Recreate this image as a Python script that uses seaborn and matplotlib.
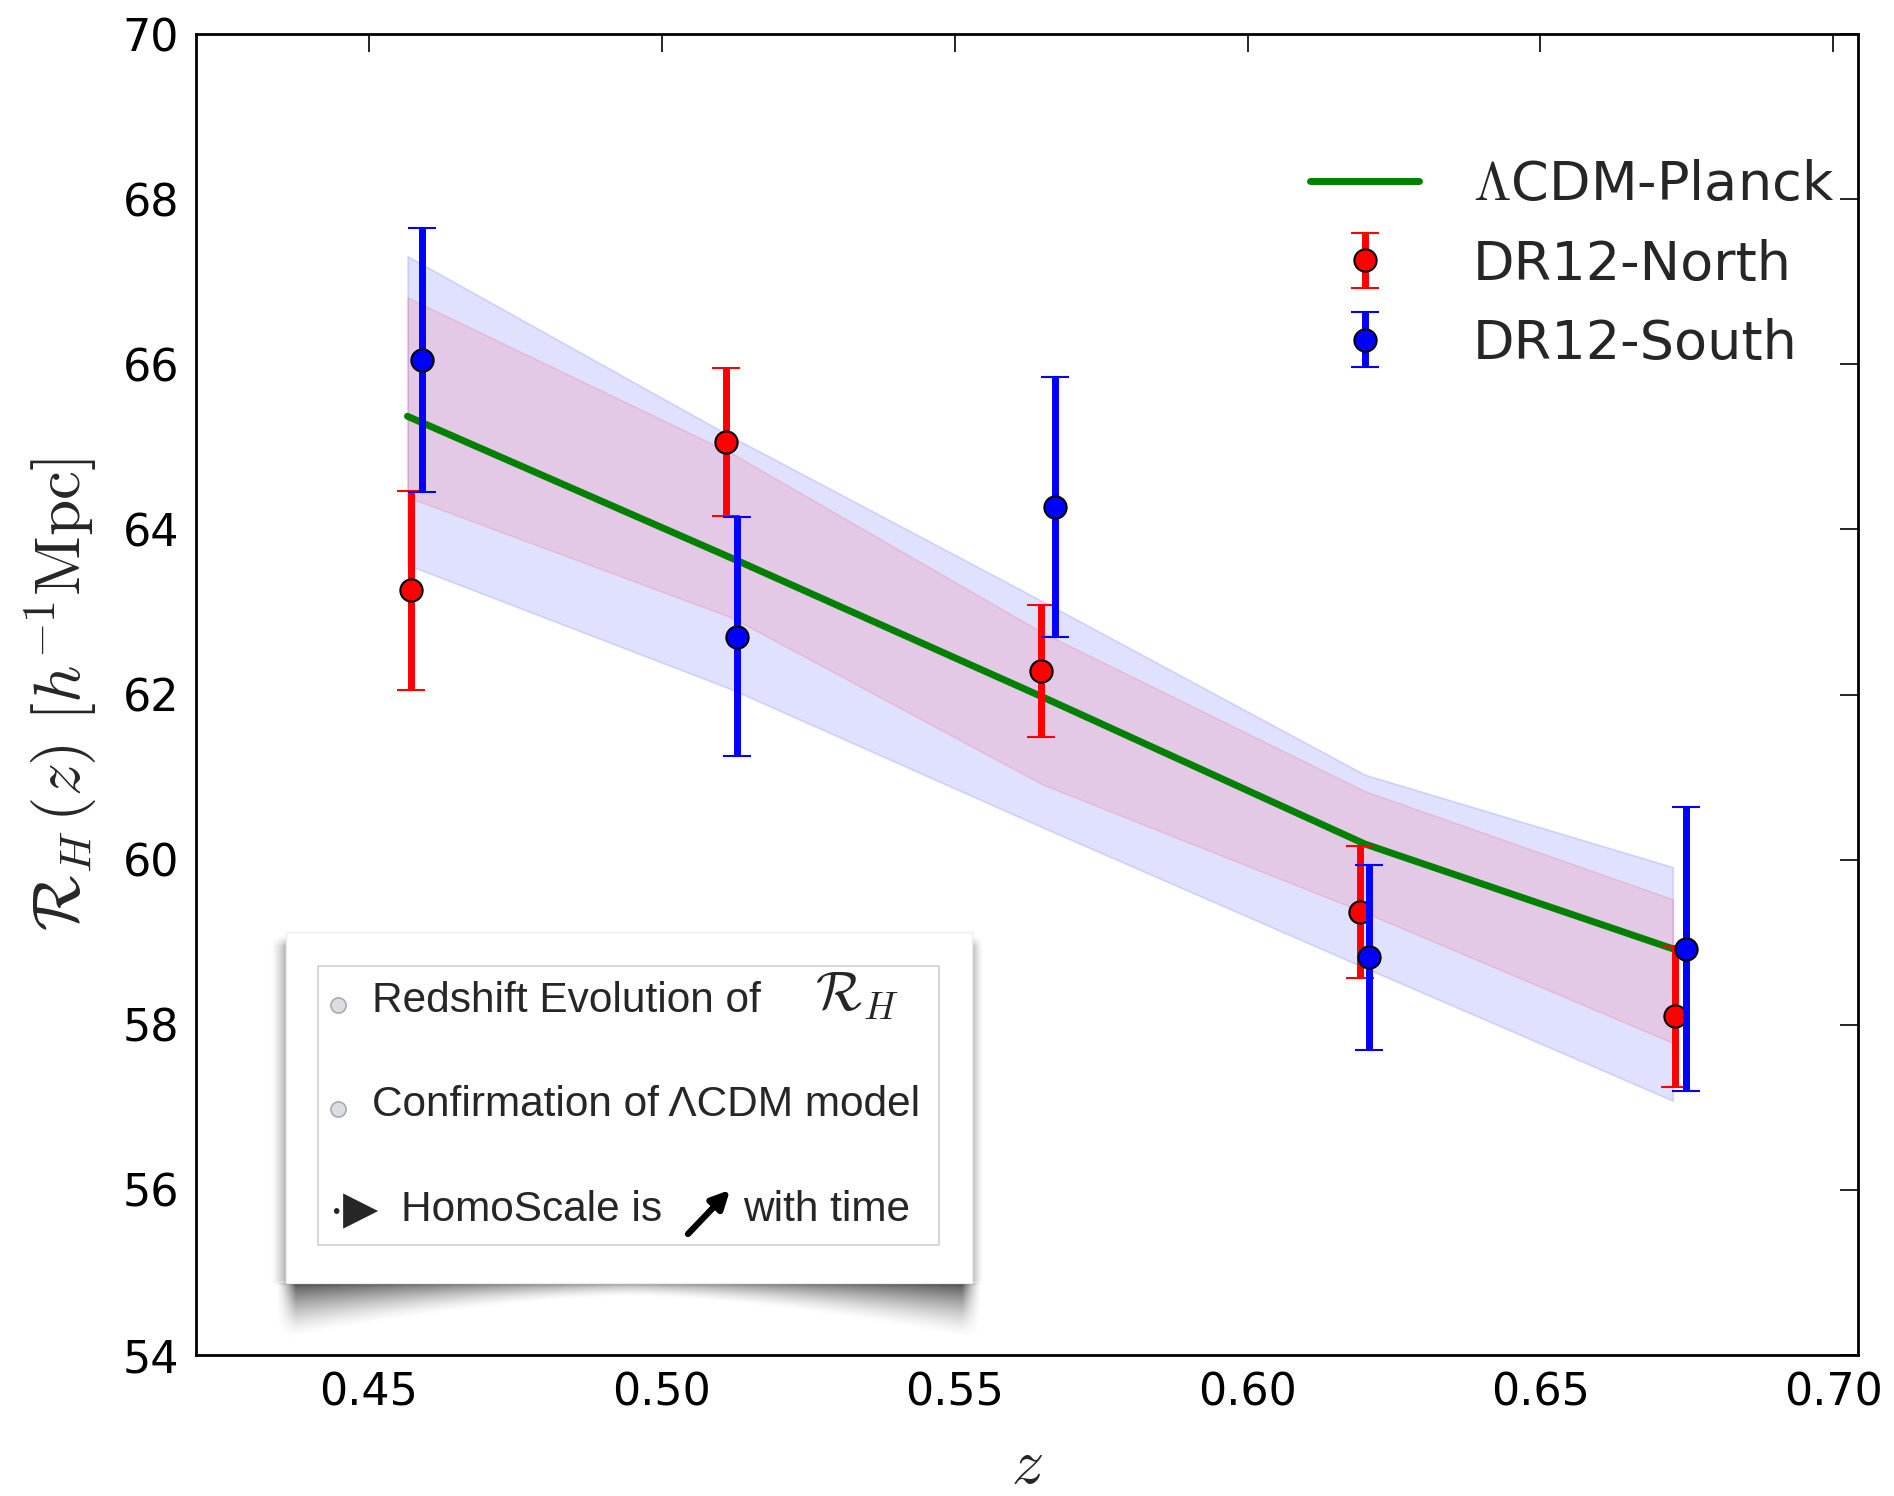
import numpy as np
import pandas as pd
import matplotlib
matplotlib.use("Agg")
import matplotlib.pyplot as plt
import seaborn as sns
from matplotlib.patches import Rectangle

# ---------------- data ----------------
z_north = [0.4572, 0.5109, 0.5648, 0.6192, 0.6730]
rh_north = [63.26, 65.06, 62.28, 59.37, 58.10]
err_north = [1.20, 0.90, 0.80, 0.80, 0.85]

z_south = [0.4591, 0.5128, 0.5671, 0.6208, 0.6749]
rh_south = [66.05, 62.70, 64.27, 58.82, 58.92]
err_south = [1.60, 1.45, 1.57, 1.12, 1.72]

z_model = [0.4566, 0.5120, 0.5650, 0.6200, 0.6726]
rh_model = [65.37, 63.65, 61.97, 60.19, 58.92]
red_hi = [66.81, 64.92, 62.75, 60.83, 59.52]
red_lo = [64.39, 62.93, 60.91, 59.36, 57.78]
blue_hi = [67.31, 65.12, 63.13, 61.03, 59.91]
blue_lo = [63.57, 62.06, 60.39, 58.69, 57.08]

x_ticks = [0.45, 0.50, 0.55, 0.60, 0.65, 0.70]
y_ticks = [54, 56, 58, 60, 62, 64, 66, 68, 70]

inset_lines = ["Redshift Evolution of", "Confirmation of \u039bCDM model", "HomoScale is", "with time"]

# ---------------- style ----------------
sns.set_theme(style="white")
plt.rcParams['font.family'] = ['DejaVu Sans']
plt.rcParams['mathtext.fontset'] = 'cm'

fig = plt.figure(figsize=(18.94, 14.96), dpi=100)
ax = fig.add_axes([0.10348, 0.09425, 0.87751, 0.88302])

# bands
ax.fill_between(z_model, blue_lo, blue_hi, color='blue', alpha=0.12, lw=1.2, zorder=1)
ax.fill_between(z_model, red_lo, red_hi, color='red', alpha=0.10, lw=1.2, zorder=2)

# model line
df_model = pd.DataFrame({"z": z_model, "rh": rh_model})
sns.lineplot(data=df_model, x="z", y="rh", ax=ax, color='green', lw=5,
             label=r'$\Lambda$CDM-Planck', zorder=3)

# data
ax.errorbar(z_north, rh_north, yerr=err_north, fmt='o', color='red', ecolor='red',
            mec='black', mew=1.5, ms=16, elinewidth=5, capsize=10, capthick=2.5,
            label='DR12-North', zorder=5)
ax.errorbar(z_south, rh_south, yerr=err_south, fmt='o', color='blue', ecolor='blue',
            mec='black', mew=1.5, ms=16, elinewidth=5, capsize=10, capthick=2.5,
            label='DR12-South', zorder=6)

ax.set_xlim(0.4205, 0.7042)
ax.set_ylim(54, 70)
ax.set_xticks(x_ticks)
ax.set_xticklabels([f"{t:.2f}" for t in x_ticks])
ax.set_yticks(y_ticks)
ax.set_yticklabels([str(t) for t in y_ticks])
ax.tick_params(direction='in', length=13, width=1.2, top=True, right=True,
               labelsize=32, pad=12, colors='black')
for s in ax.spines.values():
    s.set_linewidth(2)
    s.set_color('black')

ax.set_xlabel(r'$z$', fontsize=46, labelpad=14)
ax.set_ylabel(r'$\mathcal{R}_H\,(z)\ [h^{-1}\mathrm{Mpc}]$', fontsize=47, labelpad=16)

handles, labels = ax.get_legend_handles_labels()
leg = ax.legend(handles, labels, loc='upper right', bbox_to_anchor=(1.015, 0.942),
                frameon=False, fontsize=39, numpoints=1, handlelength=2.0,
                handletextpad=1.0, labelspacing=0.5)

# ---------------- inset card (pixel-coordinate overlay) ----------------
ov = fig.add_axes([0, 0, 1, 1], zorder=10)
ov.axis('off')
ov.patch.set_alpha(0)

cx0, cx1, cy0, cy1 = 286, 972, 932, 1283
gx0, gy0, gW, gH = 255, 910, 750, 440
xs = np.arange(gx0, gx0 + gW) + 0.5
ys = np.arange(gy0, gy0 + gH) + 0.5
X, Y = np.meshgrid(xs, ys)

def ramp(t, w):
    return np.clip(t / w, 0, 1) ** 1.5

side = 0.30 * ramp(X - (cx0 - 16), 16) * ramp((cx1 + 12) - X, 12) * \
       ramp(Y - (cy0 + 2), 12) * ramp((cy1 + 4) - Y, 6)
u = np.clip((X - cx0) / (cx1 - cx0), 0, 1)
edge = np.abs(2 * u - 1)
depth = 14 + 44 * edge ** 1.6
t = (Y - cy1) / depth
bottom = np.where((t >= 0) & (t <= 1) & (X > cx0 - 10) & (X < cx1 + 10),
                  (0.34 + 0.34 * edge) * (1 - t) ** 1.5, 0.0)
bottom *= ramp(X - (cx0 - 10), 20) * ramp((cx1 + 10) - X, 20)
alpha = np.clip(side + bottom, 0, 0.7)
img = np.zeros((gH, gW, 4))
img[..., 3] = alpha
ov.imshow(img, extent=(gx0, gx0 + gW, gy0 + gH, gy0), zorder=1, interpolation='bilinear')
ov.set_xlim(0, 1894)
ov.set_ylim(1496, 0)
ov.set_aspect('auto')

ov.add_patch(Rectangle((cx0, cy0), cx1 - cx0, cy1 - cy0, facecolor='white',
                       edgecolor='#eeeeee', lw=1, zorder=2))
ov.add_patch(Rectangle((318, 966), 939 - 318, 1245 - 966, facecolor='white',
                       edgecolor='#d0d0d0', lw=1.2, zorder=3))

tfont = ['Liberation Sans', 'DejaVu Sans']
ov.scatter([338, 338], [1005, 1109], s=120, c='#dcdde3', edgecolors='#a8aab4',
           linewidths=1.2, zorder=4)
ov.text(372, 1001, inset_lines[0], fontsize=30.5, family=tfont, va='center', ha='left', zorder=5)
ov.text(815, 996, r'$\mathcal{R}_H$', fontsize=39, va='center', ha='left', zorder=5)
ov.text(372, 1105, inset_lines[1], fontsize=30.5, family=tfont, va='center', ha='left', zorder=5)
ov.text(332, 1213, '\u2022', fontsize=15, family=tfont, va='center', ha='left', zorder=5)
ov.text(343, 1211, '\u25b6', fontsize=33, family=['DejaVu Sans'], va='center', ha='left', zorder=5)
ov.text(401, 1210, inset_lines[2], fontsize=30.5, family=tfont, va='center', ha='left', zorder=5)
ov.annotate('', xy=(730, 1190), xytext=(688, 1234),
            arrowprops=dict(arrowstyle='-|>,head_length=0.9,head_width=0.45', lw=4.5,
                            color='black', shrinkA=0, shrinkB=0), zorder=5)
ov.text(743, 1210, inset_lines[3], fontsize=30.5, family=tfont, va='center', ha='left', zorder=5)

fig.savefig('out.png', dpi=100)
